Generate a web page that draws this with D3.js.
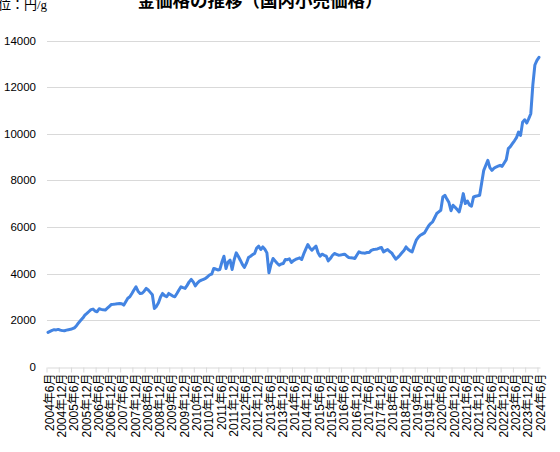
<!DOCTYPE html>
<html><head><meta charset="utf-8">
<script src="https://cdn.jsdelivr.net/npm/d3@7"></script>
<style>
html,body{margin:0;padding:0;background:#fff;overflow:hidden}
svg{display:block}
</style></head>
<body>
<svg id="c" width="560" height="452"></svg>
<script>
// ---- data ----
const startYear = 2004, startMonth = 6;
const prices = [
1485,1530,1570,1600,1590,1613,1580,1560,1550,1580,1600,1615,1650,1683,1780,1900,2000,2100,2226,2300,
2380,2460,2483,2400,2368,2497,2470,2450,2440,2520,2600,2683,2690,2700,2715,2726,2710,2654,2800,2950,
3010,3150,3300,3437,3250,3150,3160,3250,3368,3300,3200,3100,2511,2600,2750,3000,3154,3060,3010,3154,
3100,3040,3010,3150,3300,3437,3400,3368,3500,3650,3754,3650,3480,3600,3680,3724,3760,3797,3870,3950,
3981,4225,4200,4160,4182,4500,4752,4225,4500,4580,4182,4600,4893,4750,4580,4400,4268,4450,4696,4750,
4820,4867,5100,5180,5038,5150,5050,4893,4037,4400,4653,4550,4450,4366,4420,4440,4610,4600,4636,4482,
4560,4610,4650,4679,4610,4850,5050,5252,5100,5009,5100,5180,4900,4752,4837,4790,4752,4551,4650,4780,
4867,4830,4795,4800,4820,4837,4760,4696,4680,4670,4653,4800,4936,4900,4893,4880,4910,4910,5000,5038,
5050,5064,5100,5124,4936,4990,5038,4950,4893,4750,4623,4700,4795,4900,5000,5150,5050,4979,4936,5200,
5437,5560,5651,5700,5749,5900,6049,6150,6220,6400,6580,6650,6721,7290,7363,7200,7050,6700,6935,6850,
6750,6648,7000,7435,7007,7119,6950,6892,7290,7320,7340,7363,7900,8433,8647,8861,8550,8433,8520,8575,
8610,8647,8604,8750,8891,9362,9450,9576,9700,9833,10071,9931,10500,10603,10459,10650,10860,12100,12950,13150,
13280
];
const months = prices.map((_, i) => {
  const m = startMonth - 1 + i;
  return (startYear + Math.floor(m / 12)) + "年" + (m % 12 + 1) + "月";
});
const yTicks = [0,2000,4000,6000,8000,10000,12000,14000];
const titleText = "金価格の推移（国内小売価格）";
const unitText = "単位：円/g";

// ---- layout ----
const svg = d3.select("#c");
const mLeft = 47, mRight = 540, mTop = 40.5, mBottom = 367;
const x = d3.scaleBand().domain(months).range([mLeft, mRight]).padding(0);
const y = d3.scaleLinear().domain([0, 14000]).range([mBottom, mTop]);
const font = "'Liberation Sans', Arial, 'Noto Sans CJK JP', sans-serif";

// grid
svg.append("g").selectAll("line").data(yTicks.filter(d => d > 0)).join("line")
  .attr("x1", mLeft).attr("x2", mRight)
  .attr("y1", d => Math.round(y(d)) + 0.5).attr("y2", d => Math.round(y(d)) + 0.5)
  .attr("stroke", "#d9d9d9").attr("stroke-width", 1);

// y labels
svg.append("g").selectAll("text").data(yTicks).join("text")
  .attr("x", 36).attr("y", d => y(d)).attr("dy", "0.35em")
  .attr("text-anchor", "end").attr("font-family", font).attr("font-size", 11.5)
  .attr("fill", "#000").text(d => d);

// x axis
const tickVals = months.filter((_, i) => i % 6 === 0);
const xAxis = d3.axisBottom(x).tickValues(tickVals).tickSize(5).tickSizeOuter(0);
const gx = svg.append("g").attr("transform", `translate(0,${Math.round(mBottom)+0.5})`).call(xAxis);
gx.select(".domain").attr("stroke", "#d9d9d9");
gx.selectAll(".tick line").attr("stroke", "#d9d9d9")
  .attr("transform", `translate(${-x.bandwidth()/2},0)`);
gx.selectAll(".tick text")
  .attr("font-family", font).attr("font-size", 12).attr("fill", "#000")
  .attr("text-anchor", "end")
  .attr("transform", "translate(1.5,0) rotate(-90)")
  .attr("x", -6).attr("y", 0).attr("dy", "0.35em");

// line
const line = d3.line()
  .x((d, i) => x(months[i]) + x.bandwidth() / 2)
  .y(d => y(d))
  .curve(d3.curveLinear);
svg.append("path").datum(prices)
  .attr("d", line).attr("fill", "none")
  .attr("stroke", "#4384e2").attr("stroke-width", 3)
  .attr("stroke-linejoin", "round").attr("stroke-linecap", "round");

// title & unit
svg.append("text").attr("x", 260).attr("y", 6.5)
  .attr("text-anchor", "middle").attr("font-family", "'Noto Sans CJK JP', sans-serif")
  .attr("font-weight", "bold").attr("font-size", 17.5).attr("fill", "#000")
  .text(titleText);
svg.append("text").attr("x", 47).attr("y", 8.5)
  .attr("text-anchor", "end").attr("font-family", "'Liberation Serif', 'Noto Sans CJK JP', serif")
  .attr("font-size", 13).attr("fill", "#000")
  .text(unitText);
</script>
</body></html>
